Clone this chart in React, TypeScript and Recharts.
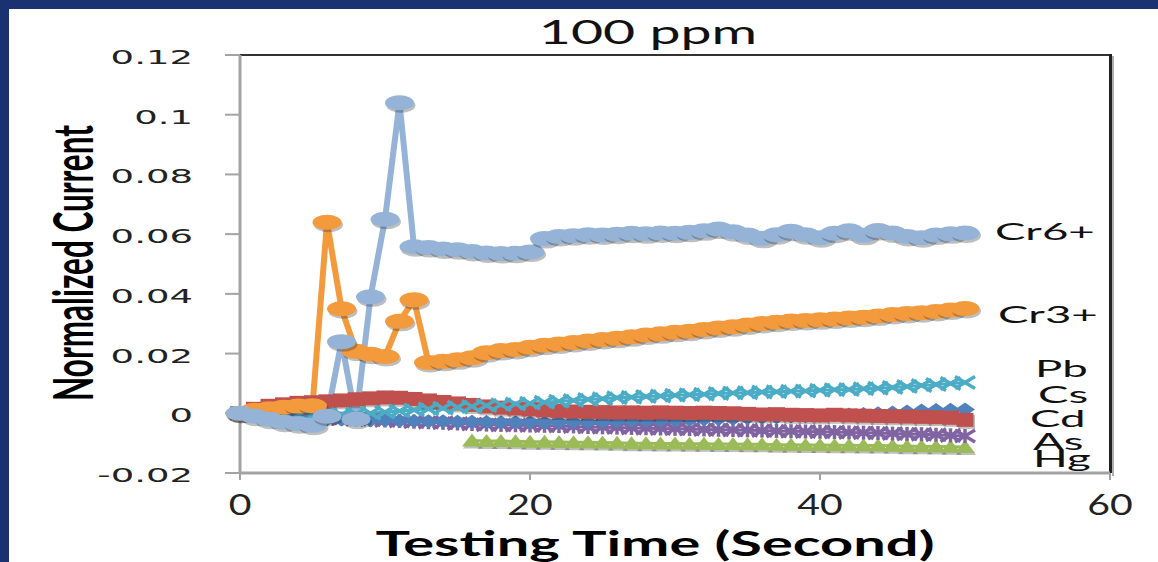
import { LineChart, Line, XAxis, YAxis } from 'recharts';

const time = [
  0, 1, 2, 3, 4, 5, 6, 7, 8, 9, 10, 11, 12, 13, 14, 15, 16, 17, 18, 19, 20, 21, 22, 23, 24, 25,
  26, 27, 28, 29, 30, 31, 32, 33, 34, 35, 36, 37, 38, 39, 40, 41, 42, 43, 44, 45, 46, 47, 48, 49, 50,
];

const cr6 = [
  0.0, -0.001, -0.002, -0.003, -0.0035, -0.004, -0.001, 0.024, -0.002, 0.039, 0.065, 0.104, 0.0558,
  0.0555, 0.055, 0.0548, 0.0542, 0.0537, 0.0535, 0.0536, 0.054, 0.0585, 0.0592, 0.0595, 0.0598, 0.0597,
  0.06, 0.0603, 0.0601, 0.0604, 0.0603, 0.0606, 0.0611, 0.0617, 0.0608, 0.0597, 0.0586, 0.0598, 0.061,
  0.0598, 0.0588, 0.0603, 0.0611, 0.0596, 0.0612, 0.0604, 0.0592, 0.0588, 0.0597, 0.0601, 0.0604,
];

const cr3 = [
  0.0, 0.001, 0.0015, 0.002, 0.0024, 0.0025, 0.064, 0.035, 0.0208, 0.0198, 0.019, 0.0308, 0.038,
  0.017, 0.0174, 0.0179, 0.0186, 0.0203, 0.021, 0.0214, 0.0221, 0.0228, 0.0232, 0.0237, 0.0242, 0.0247,
  0.0251, 0.0256, 0.0262, 0.0266, 0.0271, 0.0275, 0.0281, 0.0286, 0.029, 0.0296, 0.0301, 0.0305, 0.0309,
  0.0311, 0.0313, 0.0316, 0.0319, 0.0322, 0.0326, 0.0331, 0.0334, 0.0337, 0.0341, 0.0346, 0.0351,
];

const pb = [
  0.0, -0.0005, -0.001, -0.0012, -0.0015, -0.0018, -0.002, -0.0021, -0.0022, -0.0023, -0.0024, -0.0025,
  -0.0026, -0.0027, -0.0027, -0.0028, -0.0028, -0.0029, -0.003, -0.003, -0.003, -0.0031, -0.003, -0.003,
  -0.0029, -0.0028, -0.0027, -0.0026, -0.0025, -0.0024, -0.0023, -0.0022, -0.002, -0.0019, -0.0018,
  -0.0016, -0.0014, -0.0013, -0.0011, -0.001, -0.0008, -0.0006, -0.0004, -0.0002, 0.0, 0.0003, 0.0006,
  0.0009, 0.0011, 0.0012, 0.0013,
];

const cs = [
  0.0, -0.0003, -0.0005, -0.0006, -0.0007, -0.0008, -0.0006, -0.0004, -0.0002, 0.0, 0.0004, 0.0008,
  0.0011, 0.0014, 0.0017, 0.002, 0.0023, 0.0026, 0.0029, 0.0031, 0.0034, 0.0037, 0.004, 0.0043, 0.0046,
  0.0049, 0.0052, 0.0054, 0.0056, 0.0058, 0.006, 0.0062, 0.0064, 0.0066, 0.0068, 0.0069, 0.0071, 0.0072,
  0.0074, 0.0075, 0.0077, 0.0079, 0.008, 0.0082, 0.0084, 0.0086, 0.009, 0.0093, 0.0096, 0.01, 0.0103,
];

const cd = [
  0.0, 0.0015, 0.0025, 0.003, 0.0035, 0.0037, 0.004, 0.0043, 0.0047, 0.005, 0.0053, 0.0052, 0.0048,
  0.0043, 0.0038, 0.0033, 0.0028, 0.0023, 0.0019, 0.0016, 0.0013, 0.001, 0.0008, 0.0006, 0.0005, 0.0004,
  0.0003, 0.0003, 0.0002, 0.0003, 0.0002, 0.0001, 0.0002, 0.0001, 0.0, -0.0002, -0.0004, -0.0003, -0.0005,
  -0.0006, -0.0007, -0.0005, -0.0007, -0.0008, -0.0009, -0.001, -0.0011, -0.0012, -0.0013, -0.0015, -0.0022,
];

const as = [
  0.0, -0.0003, -0.0006, -0.0009, -0.0012, -0.0014, -0.0016, -0.0018, -0.002, -0.0022, -0.0024, -0.0026,
  -0.0028, -0.003, -0.0032, -0.0034, -0.0036, -0.0038, -0.0039, -0.004, -0.0041, -0.0042, -0.0043,
  -0.0044, -0.0046, -0.0047, -0.0048, -0.0049, -0.005, -0.0051, -0.0052, -0.0053, -0.0054, -0.0055,
  -0.0056, -0.0057, -0.0058, -0.0059, -0.006, -0.0061, -0.0062, -0.0063, -0.0064, -0.0065, -0.0066,
  -0.0068, -0.0069, -0.007, -0.0072, -0.0074, -0.0076,
];

const hg = [
  null, null, null, null, null, null, null, null, null, null, null, null, null, null, null, null,
  -0.0091, -0.0093, -0.0093, -0.0094, -0.0095, -0.0095, -0.0096, -0.0097, -0.0097, -0.0098, -0.0099,
  -0.01, -0.01, -0.0101, -0.0101, -0.0102, -0.0102, -0.0103, -0.0103, -0.0104, -0.0104, -0.0105, -0.0105,
  -0.0106, -0.0106, -0.0107, -0.0107, -0.0108, -0.0108, -0.0109, -0.011, -0.011, -0.0111, -0.0112, -0.0113,
];

const xTicks = [0, 20, 40, 60];
const yTicks = [-0.02, 0, 0.02, 0.04, 0.06, 0.08, 0.1, 0.12];

const data = time.map((t, i) => ({
  t,
  cr6: cr6[i],
  cr3: cr3[i],
  pb: pb[i],
  cs: cs[i],
  cd: cd[i],
  as: as[i],
  hg: hg[i],
}));

const FRAME = '#1a3172';
const AXIS = '#a3a3a3';

// plot box (matches the chart margins below)
const W = 1158;
const H = 562;
const M = { top: 55, right: 48, bottom: 29, left: 0 };
const Y_AXIS_W = 240;
const X_AXIS_H = 60;
const plotLeft = M.left + Y_AXIS_W;
const plotRight = W - M.right;
const plotTop = M.top;
const plotBottom = H - M.bottom - X_AXIS_H;

function makeDot(kind: string, color: string) {
  return (props: any) => {
    const { cx, cy, index } = props;
    const key = `${kind}-${index}`;
    if (cx == null || cy == null || Number.isNaN(cy)) return <g key={key} />;
    const sh = 'rgba(40,40,40,0.3)';
    if (kind === 'circle') {
      return (
        <g key={key}>
          <ellipse cx={cx + 1.5} cy={cy + 2.5} rx={14.5} ry={7.5} fill={sh} />
          <ellipse cx={cx} cy={cy} rx={14.5} ry={7.5} fill={color} />
        </g>
      );
    }
    if (kind === 'square') {
      return (
        <g key={key}>
          <rect x={cx - 7} y={cy - 5} width={17} height={14} fill={sh} />
          <rect x={cx - 8.5} y={cy - 7} width={17} height={14} fill={color} />
        </g>
      );
    }
    if (kind === 'diamond') {
      const pts = `${cx - 10},${cy} ${cx},${cy - 7} ${cx + 10},${cy} ${cx},${cy + 7}`;
      return <polygon key={key} points={pts} fill={color} />;
    }
    if (kind === 'triangle') {
      const pts = `${cx - 10},${cy + 6} ${cx},${cy - 7} ${cx + 10},${cy + 6}`;
      return (
        <g key={key}>
          <polygon points={pts} fill={sh} transform="translate(1,2)" />
          <polygon points={pts} fill={color} />
        </g>
      );
    }
    if (kind === 'x') {
      return (
        <g key={key} stroke={color} strokeWidth={3.5}>
          <line x1={cx - 10} y1={cy - 6} x2={cx + 10} y2={cy + 6} />
          <line x1={cx - 10} y1={cy + 6} x2={cx + 10} y2={cy - 6} />
        </g>
      );
    }
    // star: x with a vertical bar
    return (
      <g key={key} stroke={color} strokeWidth={3.5}>
        <line x1={cx - 10} y1={cy - 6} x2={cx + 10} y2={cy + 6} />
        <line x1={cx - 10} y1={cy + 6} x2={cx + 10} y2={cy - 6} />
        <line x1={cx} y1={cy - 7} x2={cx} y2={cy + 7} />
      </g>
    );
  };
}

function fmtY(v: number) {
  return String(parseFloat(Number(v).toFixed(2)));
}

function YTick(props: any) {
  const { x, y, payload } = props;
  return (
    <text
      transform={`translate(${x},${y + 9}) scale(1.85,1)`}
      textAnchor="end"
      fontFamily="DejaVu Sans"
      fontSize={20}
      fill="#222"
    >
      {fmtY(payload.value)}
    </text>
  );
}

function XTick(props: any) {
  const { x, y, payload } = props;
  return (
    <text
      transform={`translate(${x},${y + 33}) scale(1.4,1)`}
      textAnchor="middle"
      fontFamily="Lato"
      fontSize={28}
      fill="#222"
    >
      {payload.value}
    </text>
  );
}

const seriesLabels = [
  { name: 'Cr6+', x: 995, y: 240 },
  { name: 'Cr3+', x: 998, y: 323 },
  { name: 'Pb', x: 1035, y: 377 },
  { name: 'Cs', x: 1038, y: 403 },
  { name: 'Cd', x: 1030, y: 427 },
  { name: 'As', x: 1033, y: 450 },
  { name: 'Hg', x: 1033, y: 467 },
];

export default function App() {
  return (
    <div style={{ position: 'absolute', left: 0, top: 0, width: W, height: H, background: FRAME, overflow: 'hidden' }}>
      <div style={{ position: 'absolute', left: 9, top: 9, right: 0, bottom: 0, background: '#fff' }} />
      {/* plot frame: top and right edges */}
      <div style={{ position: 'absolute', left: plotLeft - 4, top: plotTop - 1, width: plotRight - plotLeft + 6, height: 2, background: '#333' }} />
      <div style={{ position: 'absolute', left: plotRight + 2, top: plotTop + 1, width: 2, height: plotBottom - plotTop + 2, background: '#b0b0b0' }} />
      <div style={{ position: 'absolute', left: plotRight - 1, top: plotTop - 1, width: 3, height: plotBottom - plotTop + 1, background: '#222' }} />
      <div style={{ position: 'absolute', left: 0, top: 0 }}>
        <LineChart width={W} height={H} data={data} margin={M}>
          <XAxis
            type="number"
            dataKey="t"
            domain={[0, 60]}
            ticks={xTicks}
            height={X_AXIS_H}
            tickSize={7}
            axisLine={{ stroke: AXIS, strokeWidth: 3 }}
            tickLine={{ stroke: AXIS, strokeWidth: 2 }}
            tick={<XTick />}
          />
          <YAxis
            type="number"
            domain={[-0.02, 0.12]}
            ticks={yTicks}
            width={Y_AXIS_W}
            tickSize={15}
            tickMargin={32}
            axisLine={{ stroke: AXIS, strokeWidth: 3 }}
            tickLine={{ stroke: AXIS, strokeWidth: 2 }}
            tick={<YTick />}
            allowDataOverflow
          />
          <Line dataKey="hg" stroke="#9bbb59" strokeWidth={3} dot={makeDot('triangle', '#9bbb59')} isAnimationActive={false} />
          <Line dataKey="as" stroke="#8064a2" strokeWidth={3} dot={makeDot('star', '#8064a2')} isAnimationActive={false} />
          <Line dataKey="pb" stroke="#4f81bd" strokeWidth={3} dot={makeDot('diamond', '#4f81bd')} isAnimationActive={false} />
          <Line dataKey="cd" stroke="#c0504d" strokeWidth={3} dot={makeDot('square', '#c0504d')} isAnimationActive={false} />
          <Line dataKey="cs" stroke="#4bacc6" strokeWidth={3} dot={makeDot('x', '#4bacc6')} isAnimationActive={false} />
          <Line dataKey="cr3" stroke="#f39a3c" strokeWidth={6} dot={makeDot('circle', '#f39a3c')} isAnimationActive={false} />
          <Line dataKey="cr6" stroke="#95b3d7" strokeWidth={6} dot={makeDot('circle', '#95b3d7')} isAnimationActive={false} />
        </LineChart>
      </div>
      <svg width={W} height={H} style={{ position: 'absolute', left: 0, top: 0, pointerEvents: 'none' }}>
        <text transform="translate(648,44) scale(1.68,1)" textAnchor="middle" fontFamily="Lato" fontSize={33} fill="#111">
          100 ppm
        </text>
        <text
          transform="translate(93,263) rotate(-90) scale(1,1.76)"
          textAnchor="middle"
          fontFamily="Lato"
          fontWeight="bold"
          fontSize={31.5}
          fill="#000"
        >
          Normalized Current
        </text>
        <text transform="translate(655,556) scale(1.7,1)" textAnchor="middle" fontFamily="Lato" fontWeight="bold" fontSize={34} fill="#000">
          Testing Time (Second)
        </text>
        {seriesLabels.map((s) => (
          <text key={s.name} transform={`translate(${s.x},${s.y}) scale(1.9,1)`} fontFamily="Lato" fontSize={24} fill="#111">
            {s.name}
          </text>
        ))}
      </svg>
    </div>
  );
}
